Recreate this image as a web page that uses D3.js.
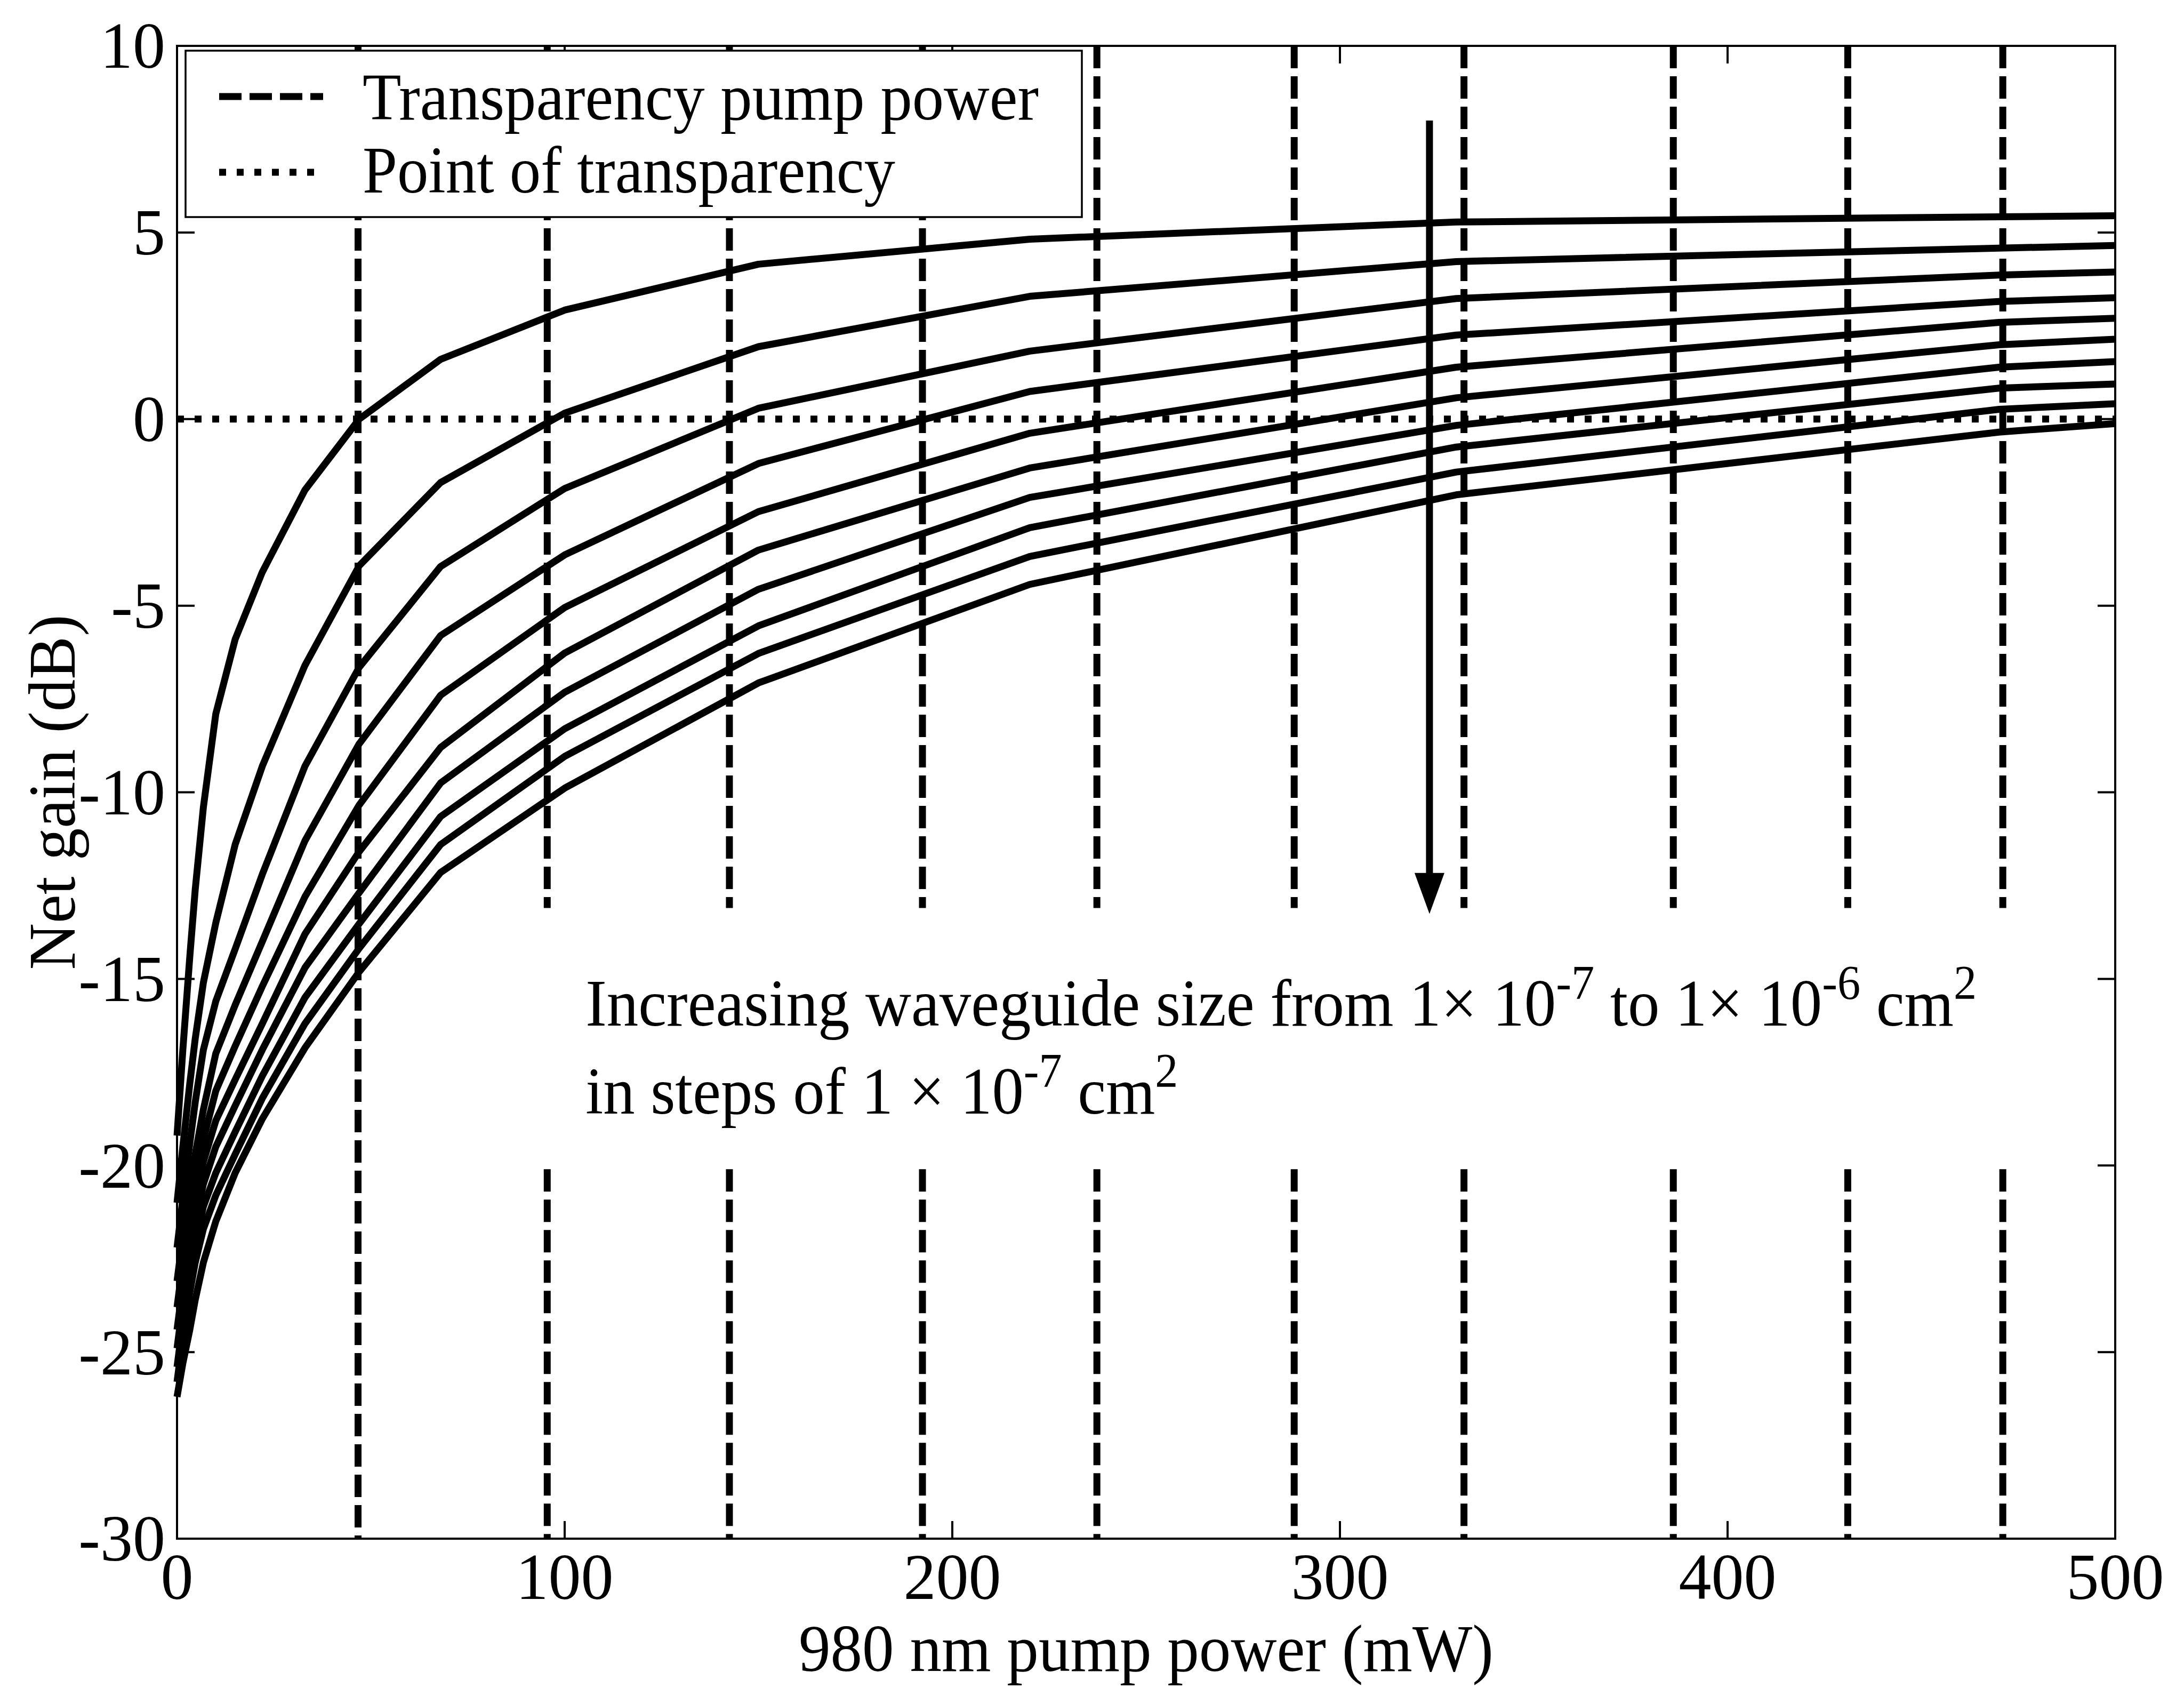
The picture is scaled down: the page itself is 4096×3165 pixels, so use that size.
<!DOCTYPE html>
<html><head><meta charset="utf-8">
<script src="https://cdn.jsdelivr.net/npm/d3@7"></script>
<style>html,body{margin:0;padding:0;background:#fff;} svg{display:block;}</style>
</head><body>
<svg id="chart" width="4096" height="3165" xmlns="http://www.w3.org/2000/svg"></svg>
<script>
// ---------------- data ----------------
const pumpPower = [0, 1.5, 3.3, 4.7, 6.8, 10, 15, 22, 33, 47, 68, 100, 150, 220, 330, 470, 500];
const gainSize1  = [-19.2, -16.9, -14.4, -12.6, -10.4, -7.9, -5.9, -4.1, -1.9, 0.0, 1.6, 2.92, 4.15, 4.82, 5.28, 5.42, 5.45];
const gainSize2  = [-21.0, -19.5, -17.8, -16.6, -15.1, -13.5, -11.4, -9.3, -6.6, -3.93, -1.7, 0.16, 1.94, 3.29, 4.22, 4.58, 4.65];
const gainSize3  = [-22.2, -20.9, -19.4, -18.3, -16.9, -15.6, -14.2, -12.2, -9.3, -6.65, -3.95, -1.86, 0.29, 1.82, 3.23, 3.86, 3.94];
const gainSize4  = [-23.1, -21.9, -20.6, -19.7, -18.5, -17.0, -15.7, -14.0, -11.3, -8.7, -5.8, -3.64, -1.19, 0.74, 2.25, 3.15, 3.25];
const gainSize5  = [-23.8, -22.6, -21.3, -20.4, -19.3, -18.0, -16.8, -15.2, -12.8, -10.34, -7.4, -5.05, -2.48, -0.38, 1.39, 2.59, 2.70];
const gainSize6  = [-24.4, -23.2, -21.9, -21.0, -19.9, -18.8, -17.7, -16.2, -13.8, -11.59, -8.8, -6.27, -3.51, -1.31, 0.57, 1.99, 2.14];
const gainSize7  = [-24.9, -23.7, -22.4, -21.5, -20.5, -19.5, -18.4, -16.9, -14.7, -12.69, -9.75, -7.32, -4.56, -2.10, -0.17, 1.39, 1.54];
const gainSize8  = [-25.4, -24.2, -22.9, -22.1, -21.1, -20.2, -19.1, -17.6, -15.5, -13.52, -10.65, -8.30, -5.54, -2.91, -0.75, 0.83, 0.94];
const gainSize9  = [-25.8, -24.6, -23.4, -22.6, -21.7, -20.8, -19.7, -18.2, -16.2, -14.18, -11.4, -9.04, -6.28, -3.68, -1.42, 0.26, 0.41];
const gainSize10 = [-26.2, -25.3, -24.4, -23.6, -22.6, -21.5, -20.2, -18.75, -16.85, -14.81, -12.15, -9.89, -7.07, -4.43, -2.03, -0.35, -0.12];
const gainSeries = [gainSize1, gainSize2, gainSize3, gainSize4, gainSize5, gainSize6, gainSize7, gainSize8, gainSize9, gainSize10];

const transparencyPower = [46.7, 95.5, 142.5, 192.3, 237.3, 288.2, 332, 386, 431, 471];
const xTicks = [0, 100, 200, 300, 400, 500];
const yTicks = [10, 5, 0, -5, -10, -15, -20, -25, -30];
const legendLabels = ["Transparency pump power", "Point of transparency"];
const xLabel = "980 nm pump power (mW)";
const yLabel = "Net gain (dB)";

// ---------------- layout ----------------
const svg = d3.select("#chart");
const FONT = "'Liberation Serif', 'Times New Roman', serif";
const L = 332, R = 3967, T = 86, B = 2885;
const x = d3.scaleLinear().domain([0, 500]).range([L, R]);
const y = d3.scaleLinear().domain([-30, 10]).range([B, T]);
const LW = 13;

function fitWidth(sel, w) {
  sel.attr("textLength", w).attr("lengthAdjust", "spacingAndGlyphs");
  return sel;
}

const plot = svg.append("g");

// transparency pump power (dashed verticals)
transparencyPower.forEach((p, i) => {
  const segs = i === 0 ? [[10, -30]] : [[10, -13.1], [-20.1, -30]];
  segs.forEach(s => {
    plot.append("line")
      .attr("x1", x(p)).attr("x2", x(p))
      .attr("y1", y(s[0])).attr("y2", y(s[1]))
      .attr("stroke", "#000").attr("stroke-width", LW)
      .attr("stroke-dasharray", "42 15");
  });
});

// point of transparency (dotted at 0 dB)
plot.append("line")
  .attr("x1", x(0)).attr("x2", x(500))
  .attr("y1", y(0)).attr("y2", y(0))
  .attr("stroke", "#000").attr("stroke-width", LW)
  .attr("stroke-dasharray", "13 20");

// gain curves
const line = d3.line().x((d, i) => x(pumpPower[i])).y(d => y(d));
gainSeries.forEach(s => {
  plot.append("path").datum(s)
    .attr("d", line)
    .attr("fill", "none").attr("stroke", "#000")
    .attr("stroke-width", LW).attr("stroke-linejoin", "round");
});

// arrow
const ax = x(323.1);
plot.append("line")
  .attr("x1", ax).attr("x2", ax)
  .attr("y1", y(8.0)).attr("y2", y(-12.3))
  .attr("stroke", "#000").attr("stroke-width", LW);
plot.append("path")
  .attr("d", `M${ax - 28},${y(-12.16)} L${ax + 28},${y(-12.16)} L${ax},${y(-13.26)} Z`)
  .attr("fill", "#000");

// annotation text
const ann = svg.append("g").attr("font-family", FONT).attr("fill", "#000");
const FS = 124, SUP = 90, RAISE = 50;
function supText(sel, parts) {
  let raised = false;
  parts.forEach(p => {
    const ts = sel.append("tspan").text(p.t);
    if (p.sup) {
      ts.attr("font-size", SUP).attr("dy", raised ? 0 : -RAISE);
      raised = true;
    } else {
      ts.attr("font-size", FS).attr("dy", raised ? RAISE : 0);
      raised = false;
    }
  });
}
const t1 = ann.append("text").attr("x", x(105.4)).attr("y", y(-16.25)).attr("font-size", FS);
supText(t1, [{t: "Increasing waveguide size from 1\u00d7 10"}, {t: "-7", sup: true}, {t: " to 1\u00d7 10"}, {t: "-6", sup: true}, {t: " cm"}, {t: "2", sup: true}]);
fitWidth(t1, 2609);
const t2 = ann.append("text").attr("x", x(105.4)).attr("y", y(-18.61)).attr("font-size", FS);
supText(t2, [{t: "in steps of 1 \u00d7 10"}, {t: "-7", sup: true}, {t: " cm"}, {t: "2", sup: true}]);
fitWidth(t2, 1111);

// axes box + ticks
const axes = svg.append("g").attr("stroke", "#000").attr("stroke-width", 4).attr("fill", "none");
axes.append("rect").attr("x", L).attr("y", T).attr("width", R - L).attr("height", B - T);
const TL = 33;
xTicks.forEach(v => {
  axes.append("line").attr("x1", x(v)).attr("x2", x(v)).attr("y1", B).attr("y2", B - TL);
  axes.append("line").attr("x1", x(v)).attr("x2", x(v)).attr("y1", T).attr("y2", T + TL);
});
yTicks.forEach(v => {
  axes.append("line").attr("x1", L).attr("x2", L + TL).attr("y1", y(v)).attr("y2", y(v));
  axes.append("line").attr("x1", R).attr("x2", R - TL).attr("y1", y(v)).attr("y2", y(v));
});

// legend (on top)
const leg = svg.append("g");
const LX0 = 348, LY0 = 95, LX1 = 2029, LY1 = 407;
leg.append("rect").attr("x", LX0).attr("y", LY0).attr("width", LX1 - LX0).attr("height", LY1 - LY0)
  .attr("fill", "#fff").attr("stroke", "#000").attr("stroke-width", 3.5);
leg.append("line").attr("x1", 411).attr("x2", 606).attr("y1", 181).attr("y2", 181)
  .attr("stroke", "#000").attr("stroke-width", LW).attr("stroke-dasharray", "42 15");
leg.append("line").attr("x1", 411).attr("x2", 606).attr("y1", 323).attr("y2", 323)
  .attr("stroke", "#000").attr("stroke-width", LW).attr("stroke-dasharray", "13 20");
const lt1 = leg.append("text").attr("x", 680).attr("y", 224).attr("font-family", FONT).attr("font-size", FS).text(legendLabels[0]);
fitWidth(lt1, 1268);
const lt2 = leg.append("text").attr("x", 680).attr("y", 361).attr("font-family", FONT).attr("font-size", FS).text(legendLabels[1]);
fitWidth(lt2, 999);

// tick labels
const TFS = 122;
const tl = svg.append("g").attr("font-family", FONT).attr("font-size", TFS).attr("fill", "#000");
xTicks.forEach(v => {
  tl.append("text").attr("x", x(v)).attr("y", 2998).attr("text-anchor", "middle").text(v);
});
yTicks.forEach(v => {
  tl.append("text").attr("x", 310).attr("y", y(v) + 0.34 * TFS).attr("text-anchor", "end").text(v);
});

// axis labels
const xl = svg.append("text").attr("x", (L + R) / 2).attr("y", 3133).attr("text-anchor", "middle")
  .attr("font-family", FONT).attr("font-size", FS).text(xLabel);
fitWidth(xl, 1303);
const yl = svg.append("text").attr("transform", `translate(140,${(T + B) / 2}) rotate(-90)`)
  .attr("text-anchor", "middle").attr("font-family", FONT).attr("font-size", FS).text(yLabel);
fitWidth(yl, 666);
</script>
</body></html>
